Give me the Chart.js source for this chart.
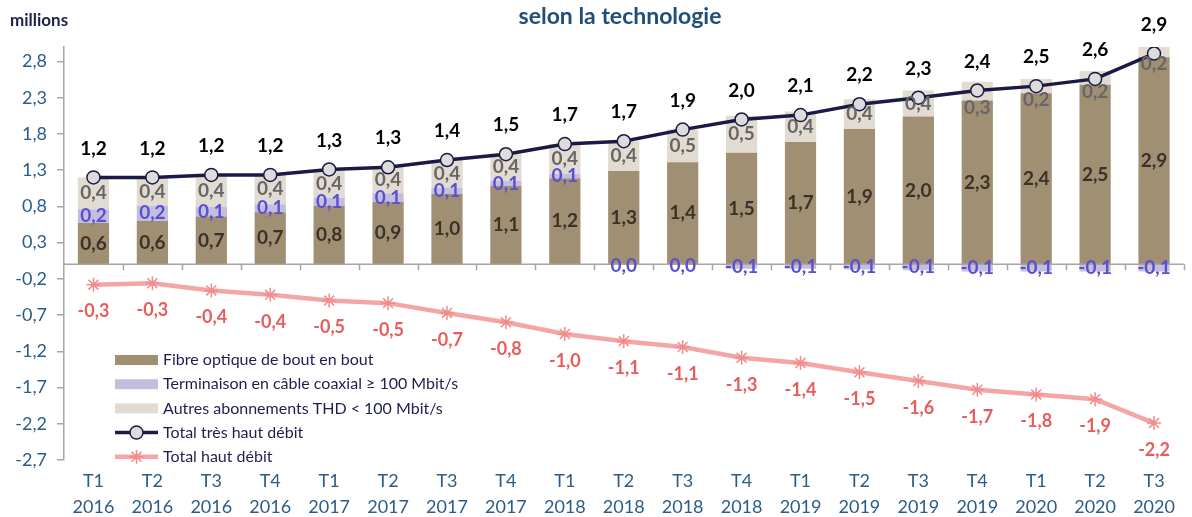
<!DOCTYPE html>
<html>
<head>
<meta charset="utf-8">
<script src="https://cdn.jsdelivr.net/npm/chart.js@4/dist/chart.umd.min.js"></script>
<style>
html, body { margin: 0; padding: 0; background: #fff; }
#wrap { width: 1192px; height: 517px; position: relative; }
</style>
</head>
<body>
<div id="wrap"><canvas id="myChart"></canvas></div>
<script>
// data (millions)
var quarters = ['T1','T2','T3','T4','T1','T2','T3','T4','T1','T2','T3','T4','T1','T2','T3','T4','T1','T2','T3'];
var years = ['2016','2016','2016','2016','2017','2017','2017','2017','2018','2018','2018','2018','2019','2019','2019','2019','2020','2020','2020'];
var fibre = [0.57,0.60,0.66,0.72,0.81,0.86,0.97,1.08,1.19,1.29,1.41,1.54,1.69,1.87,2.04,2.26,2.36,2.48,2.86];
var coax = [0.19,0.21,0.14,0.11,0.11,0.12,0.09,0.07,0.06,0,0,-0.06,-0.06,-0.07,-0.08,-0.1,-0.1,-0.1,-0.1];
var autres = [0.44,0.39,0.44,0.42,0.39,0.37,0.38,0.38,0.41,0.41,0.45,0.51,0.42,0.41,0.36,0.26,0.2,0.19,0.16];
var totalThd = [1.2,1.2,1.235,1.235,1.31,1.34,1.44,1.52,1.66,1.70,1.86,2.0,2.06,2.21,2.30,2.40,2.46,2.56,2.91];
var totalHd = [-0.28,-0.26,-0.36,-0.42,-0.50,-0.535,-0.67,-0.80,-0.96,-1.06,-1.14,-1.29,-1.36,-1.49,-1.61,-1.73,-1.795,-1.86,-2.19];
var yTicks = [-2.7,-2.2,-1.7,-1.2,-0.7,-0.2,0.3,0.8,1.3,1.8,2.3,2.8];

var FONT = 'Lato, "Open Sans", sans-serif';
var labels = [];
for (var i = 0; i < quarters.length; i++) {
	labels.push([quarters[i], years[i]]);
}

function fmt(v) {
	return v.toFixed(1).replace('.', ',');
}

// data labels, zero line with ticks, legend, title
var decoPlugin = {
	id: 'deco',
	afterDatasetsDraw: function (chart) {
		var ctx = chart.ctx;
		var area = chart.chartArea;
		var ys = chart.scales.y;
		var zeroY = ys.getPixelForValue(0);
		ctx.save();

		// zero line + category ticks
		ctx.strokeStyle = '#A6A6A6';
		ctx.lineWidth = 1.5;
		ctx.beginPath();
		ctx.moveTo(area.left, zeroY);
		ctx.lineTo(area.right, zeroY);
		var catW = (area.right - area.left) / labels.length;
		for (var k = 1; k <= labels.length; k++) {
			var tx = Math.round(area.left + k * catW) + 0.5;
			ctx.moveTo(tx, zeroY);
			ctx.lineTo(tx, zeroY + 6);
		}
		ctx.stroke();

		// value labels
		ctx.textAlign = 'center';
		ctx.textBaseline = 'middle';
		ctx.font = 'bold 19px ' + FONT;
		var segColors = ['#3A3226', '#5A4FCF', '#666666'];
		for (var d = 0; d < 3; d++) {
			var meta = chart.getDatasetMeta(d);
			ctx.fillStyle = segColors[d];
			meta.data.forEach(function (bar, idx) {
				var v = chart.data.datasets[d].data[idx];
				var cy = (bar.y + bar.base) / 2;
				if (v === 0) cy = zeroY + 2;
				// thin top segments: label sits a bit lower, like the original
				if (d === 2 && Math.abs(bar.base - bar.y) < 20) cy = bar.base + 7;
				ctx.fillText(fmt(v), bar.x, cy);
			});
		}
		var mThd = chart.getDatasetMeta(3);
		ctx.fillStyle = '#000000';
		ctx.font = 'bold 19px ' + FONT;
		mThd.data.forEach(function (pt, idx) {
			ctx.fillText(fmt(totalThd[idx]), pt.x, pt.y - 29);
		});
		var mHd = chart.getDatasetMeta(4);
		ctx.fillStyle = '#E85C5C';
		ctx.font = 'bold 18px ' + FONT;
		mHd.data.forEach(function (pt, idx) {
			ctx.fillText(fmt(totalHd[idx]), pt.x, pt.y + 27);
		});

		// legend inside the plot
		var lx = 115, ly = 360, step = 24.2;
		ctx.textAlign = 'left';
		ctx.font = '16px ' + FONT;
		chart.data.datasets.forEach(function (ds, n) {
			var cy = ly + n * step;
			if (ds.type === 'bar') {
				ctx.fillStyle = ds.backgroundColor;
				ctx.fillRect(lx, cy - 5, 43, 10);
			} else {
				ctx.strokeStyle = ds.borderColor;
				ctx.lineWidth = ds.borderWidth;
				ctx.beginPath();
				ctx.moveTo(lx, cy);
				ctx.lineTo(lx + 43, cy);
				ctx.stroke();
				ctx.fillStyle = ds.pointBackgroundColor;
				ctx.strokeStyle = ds.pointBorderColor;
				ctx.lineWidth = ds.pointBorderWidth;
				Chart.helpers.drawPoint(ctx, {
					pointStyle: ds.pointStyle,
					radius: ds.pointRadius,
					borderWidth: ds.pointBorderWidth,
					rotation: 0
				}, lx + 21.5, cy);
			}
			ctx.fillStyle = '#1F1F4F';
			ctx.textBaseline = 'middle';
			ctx.fillText(ds.label, lx + 48, cy);
		});

		// titles
		ctx.fillStyle = '#1F4E79';
		ctx.font = 'bold 23px ' + FONT;
		ctx.textAlign = 'center';
		ctx.fillText('selon la technologie', 620, 17);
		ctx.fillStyle = '#1F1F4F';
		ctx.font = 'bold 17px ' + FONT;
		ctx.textAlign = 'left';
		ctx.fillText('millions', 10, 21);
		ctx.restore();
	}
};

var ctx = document.getElementById('myChart').getContext('2d');
var myChart = new Chart(ctx, {
	data: {
		labels: labels,
		datasets: [
		{
			type: 'bar',
			label: 'Fibre optique de bout en bout',
			data: fibre,
			backgroundColor: '#A08F73',
			stack: 'thd',
			order: 3,
			barPercentage: 0.53,
			categoryPercentage: 1
		},
		{
			type: 'bar',
			label: 'Terminaison en câble coaxial ≥ 100 Mbit/s',
			data: coax,
			backgroundColor: '#C3BEDF',
			stack: 'thd',
			order: 3,
			barPercentage: 0.53,
			categoryPercentage: 1
		},
		{
			type: 'bar',
			label: 'Autres abonnements THD < 100 Mbit/s',
			data: autres,
			backgroundColor: '#E2DBD1',
			stack: 'thd',
			order: 3,
			barPercentage: 0.53,
			categoryPercentage: 1
		},
		{
			type: 'line',
			label: 'Total très haut débit',
			data: totalThd,
			stack: 'line1',
			order: 1,
			borderColor: '#1B1A47',
			borderWidth: 3.5,
			pointStyle: 'circle',
			pointRadius: 6.5,
			pointBorderWidth: 1.5,
			pointBackgroundColor: '#DCDCDC',
			pointBorderColor: '#1B1A47',
			tension: 0,
			fill: false
		},
		{
			type: 'line',
			label: 'Total haut débit',
			data: totalHd,
			stack: 'line2',
			order: 2,
			borderColor: '#F4A5A5',
			borderWidth: 4.5,
			pointStyle: 'star',
			pointRadius: 7,
			pointBorderWidth: 1.5,
			pointBackgroundColor: '#F4A5A5',
			pointBorderColor: '#F08C8C',
			tension: 0,
			fill: false
		}
		]
	},
	options: {
		responsive: true,
		maintainAspectRatio: false,
		animation: false,
		layout: { padding: { top: 47, right: 3, left: 0, bottom: 0 } },
		plugins: {
			legend: { display: false },
			title: { display: false },
			tooltip: { enabled: false }
		},
		scales: {
			x: {
				stacked: true,
				grid: { display: false, drawTicks: false },
				border: { display: false },
				ticks: {
					color: '#2B5C8A',
					font: { family: FONT, size: 18, lineHeight: 1.45 },
					padding: 8,
					maxRotation: 0,
					autoSkip: false
				},
				afterFit: function (s) { s.height = 57; }
			},
			y: {
				stacked: true,
				min: -2.7,
				max: 3.0,
				afterBuildTicks: function (s) {
					s.ticks = yTicks.map(function (v) { return { value: v }; });
				},
				afterFit: function (s) { s.width = 64; },
				grid: {
					drawOnChartArea: false,
					drawTicks: true,
					tickLength: 7,
					color: '#A6A6A6',
					lineWidth: 1.5
				},
				border: { display: true, color: '#A6A6A6', width: 1.5 },
				ticks: {
					color: '#2B5C8A',
					font: { family: FONT, size: 18 },
					padding: 10,
					callback: function (v) { return fmt(v); }
				}
			}
		}
	},
	plugins: [decoPlugin]
});
</script>
</body>
</html>
